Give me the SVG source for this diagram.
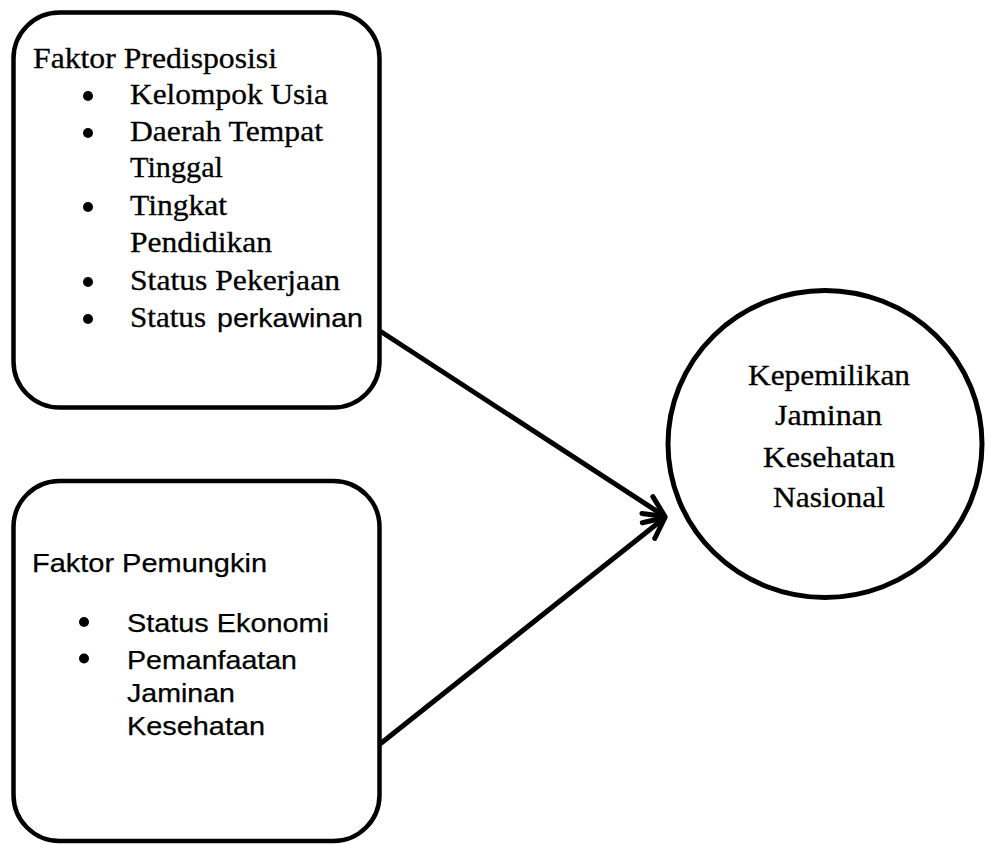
<svg xmlns="http://www.w3.org/2000/svg" width="986" height="845" viewBox="0 0 986 845">
<defs>
<style>
.box{fill:#fff;stroke:#000;stroke-width:4.5}
.serif{font-family:"Liberation Serif","Times New Roman",serif;fill:#000;stroke:#000;stroke-width:0.3}
.sans{font-family:"Liberation Sans",Arial,sans-serif;fill:#000;stroke:#000;stroke-width:0.25}
.t30{font-size:30px}
.t28{font-size:28.5px}
.t26{font-size:26px}
.conn{fill:none;stroke:#000;stroke-width:5}
.bul{fill:#000}
</style>
<marker id="chev" markerUnits="userSpaceOnUse" markerWidth="40" markerHeight="40" refX="0" refY="0" viewBox="-30 -20 40 40" orient="auto" overflow="visible">
<path d="M -21,-10 L 0,0 L -21,10" fill="none" stroke="#000" stroke-width="5" stroke-linecap="round" stroke-linejoin="round"/>
</marker>
</defs>
<rect width="986" height="845" fill="#fff"/>
<g id="connectors">
<line class="conn" x1="380" y1="331" x2="665" y2="516.5" marker-end="url(#chev)"/>
<line class="conn" x1="380" y1="744" x2="665" y2="517.5" marker-end="url(#chev)"/>
</g>
<g id="predisposisi">
<rect class="box" x="13.5" y="12.5" width="366" height="395" rx="46" ry="46"/>
<text class="serif t30" x="33" y="68" textLength="244" lengthAdjust="spacingAndGlyphs">Faktor Predisposisi</text>
<circle class="bul" cx="88" cy="96" r="5"/>
<text class="serif t30" x="130" y="104" textLength="198" lengthAdjust="spacingAndGlyphs">Kelompok Usia</text>
<circle class="bul" cx="88" cy="133" r="5"/>
<text class="serif t30" x="130" y="141" textLength="193" lengthAdjust="spacingAndGlyphs">Daerah Tempat</text>
<text class="serif t30" x="130" y="177" textLength="93" lengthAdjust="spacingAndGlyphs">Tinggal</text>
<circle class="bul" cx="88" cy="207" r="5"/>
<text class="serif t30" x="130" y="215" textLength="97" lengthAdjust="spacingAndGlyphs">Tingkat</text>
<text class="serif t30" x="130" y="252" textLength="142" lengthAdjust="spacingAndGlyphs">Pendidikan</text>
<circle class="bul" cx="88" cy="282" r="5"/>
<text class="serif t30" x="130" y="290" textLength="210" lengthAdjust="spacingAndGlyphs">Status Pekerjaan</text>
<circle class="bul" cx="88" cy="319" r="5"/>
<text class="serif t30" x="130" y="327" textLength="76" lengthAdjust="spacingAndGlyphs">Status</text>
<text class="sans t26" x="217" y="327" textLength="146" lengthAdjust="spacingAndGlyphs">perkawinan</text>
</g>
<g id="pemungkin">
<rect class="box" x="13.5" y="481" width="366" height="360" rx="46" ry="46"/>
<text class="sans t26" x="32" y="571.5" textLength="235" lengthAdjust="spacingAndGlyphs">Faktor Pemungkin</text>
<circle class="bul" cx="84" cy="622" r="5"/>
<text class="sans t26" x="127" y="631.5" textLength="202" lengthAdjust="spacingAndGlyphs">Status Ekonomi</text>
<circle class="bul" cx="84" cy="658.5" r="5"/>
<text class="sans t26" x="127" y="668.5" textLength="170" lengthAdjust="spacingAndGlyphs">Pemanfaatan</text>
<text class="sans t26" x="127" y="701.5" textLength="108" lengthAdjust="spacingAndGlyphs">Jaminan</text>
<text class="sans t26" x="127" y="735" textLength="138" lengthAdjust="spacingAndGlyphs">Kesehatan</text>
</g>
<g id="kepemilikan">
<ellipse class="box" cx="825" cy="444" rx="157" ry="153.5" style="stroke-width:5"/>
<text class="serif t28" x="748" y="385" textLength="162" lengthAdjust="spacingAndGlyphs">Kepemilikan</text>
<text class="serif t28" x="775" y="425" textLength="107" lengthAdjust="spacingAndGlyphs">Jaminan</text>
<text class="serif t28" x="763" y="466.5" textLength="132" lengthAdjust="spacingAndGlyphs">Kesehatan</text>
<text class="serif t28" x="773" y="506.5" textLength="112" lengthAdjust="spacingAndGlyphs">Nasional</text>
</g>
</svg>
